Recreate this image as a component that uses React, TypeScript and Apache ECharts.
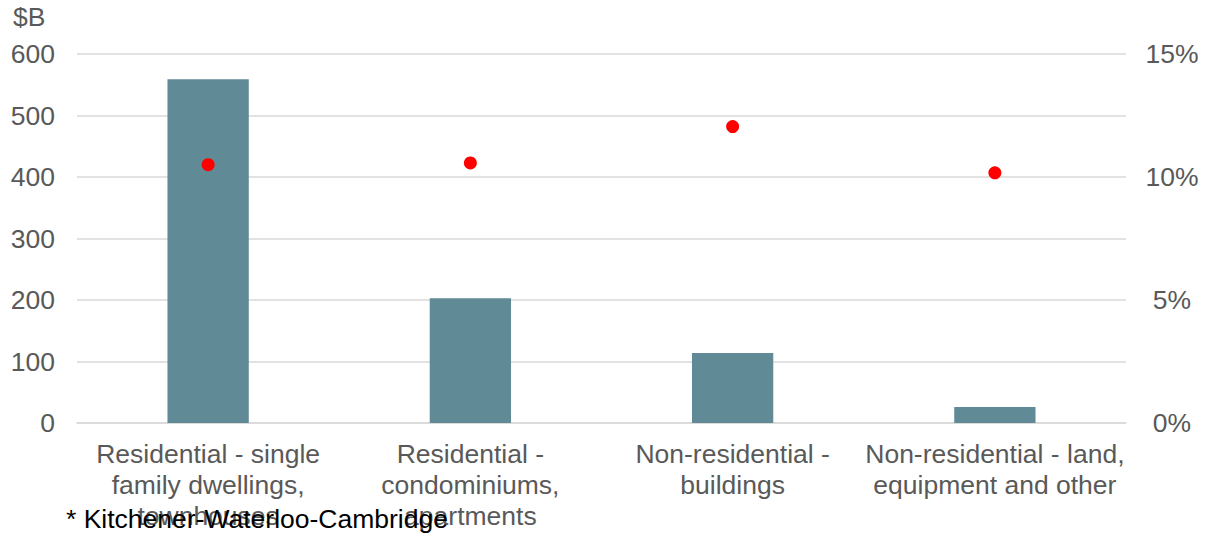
import React, { useEffect, useRef } from "react";
import * as echarts from "echarts";

// Investment by asset type ($B) and its share (%)
const categories = [
  "Residential - single\nfamily dwellings,\ntownhouses",
  "Residential -\ncondominiums,\napartments",
  "Non-residential -\nbuildings",
  "Non-residential - land,\nequipment and other",
];
const valuesB = [559, 203, 114, 26];
const sharePct = [10.5, 10.57, 12.05, 10.17];
const leftTicks = { min: 0, max: 600, interval: 100 };
const rightTicks = { min: 0, max: 15, interval: 5 };
const footnote = "* Kitchener-Waterloo-Cambridge";
const unitLabel = "$B";

const FONT = "'Liberation Sans', Arial, sans-serif";
const GREY = "#595959";
const FS = 26.5;

export default function App() {
  const ref = useRef<HTMLDivElement>(null);

  useEffect(() => {
    if (!ref.current) return;
    const chart = echarts.init(ref.current, null, { renderer: "svg" });
    chart.setOption({
      animation: false,
      textStyle: { fontFamily: FONT },
      grid: { left: 77, right: 91, top: 54, bottom: 112, containLabel: false },
      xAxis: {
        type: "category",
        data: categories,
        axisLine: { show: true, lineStyle: { color: "#d9d9d9", width: 1.5 } },
        axisTick: { show: false },
        axisLabel: {
          interval: 0,
          color: GREY,
          fontSize: FS,
          lineHeight: 31,
          margin: 15,
          fontFamily: FONT,
        },
      },
      yAxis: [
        {
          type: "value",
          min: leftTicks.min,
          max: leftTicks.max,
          interval: leftTicks.interval,
          axisLine: { show: false },
          axisTick: { show: false },
          splitLine: { lineStyle: { color: "#d9d9d9", width: 1.5 } },
          axisLabel: { color: GREY, fontSize: FS, margin: 22, fontFamily: FONT },
        },
        {
          type: "value",
          min: rightTicks.min,
          max: rightTicks.max,
          interval: rightTicks.interval,
          position: "right",
          axisLine: { show: false },
          axisTick: { show: false },
          splitLine: { show: false },
          axisLabel: {
            color: GREY,
            fontSize: FS,
            margin: 46,
            align: "center",
            formatter: "{value}%",
            fontFamily: FONT,
          },
        },
      ],
      series: [
        {
          type: "bar",
          data: valuesB,
          barWidth: "31%",
          itemStyle: { color: "#5f8a96" },
          yAxisIndex: 0,
        },
        {
          type: "scatter",
          data: sharePct,
          yAxisIndex: 1,
          symbol: "circle",
          symbolSize: 13,
          itemStyle: { color: "#ff0000", opacity: 1 },
          z: 5,
        },
      ],
      graphic: [
        {
          type: "text",
          left: 13,
          top: 3,
          style: { text: unitLabel, fill: GREY, fontSize: FS, fontFamily: FONT },
        },
        {
          type: "text",
          left: 66,
          top: 505,
          z: 10,
          style: { text: footnote, fill: "#000000", fontSize: FS, fontFamily: FONT },
        },
      ],
    });
    return () => chart.dispose();
  }, []);

  return (
    <div
      ref={ref}
      style={{ position: "fixed", left: 0, top: 0, width: 1217, height: 535, background: "#fff" }}
    />
  );
}
